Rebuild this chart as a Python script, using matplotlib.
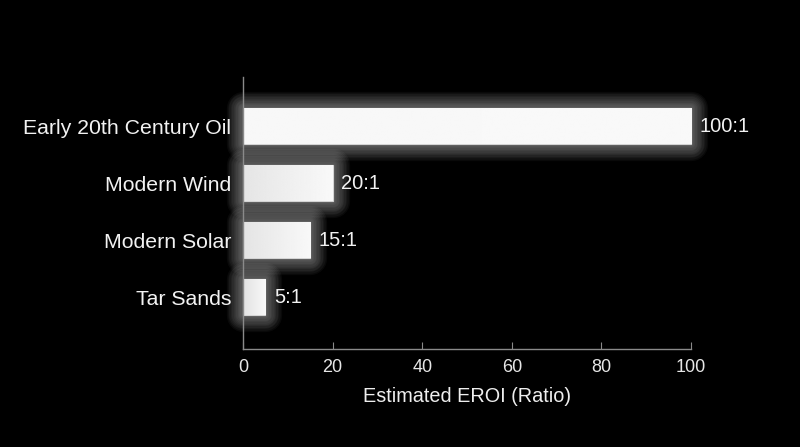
import numpy as np
import matplotlib
matplotlib.use('Agg')
import matplotlib.pyplot as plt
import matplotlib.patheffects as pe

# data
sources = ['Early 20th Century Oil', 'Modern Wind', 'Modern Solar', 'Tar Sands']
eroi = [100, 20, 15, 5]
value_labels = ['100:1', '20:1', '15:1', '5:1']

plt.rcParams['font.family'] = ['Liberation Sans', 'DejaVu Sans']

fig = plt.figure(figsize=(8, 4.47), dpi=100, facecolor='black')
ax = fig.add_axes([0.30375, 0.2192, 0.56, 0.6085], facecolor='black')

ypos = np.arange(len(sources))
bars = ax.barh(ypos, eroi, height=0.63, color='white', edgecolor='#d4d4d4',
               linewidth=0.8, zorder=3)

# soft white glow around each bar
glow = [pe.Stroke(linewidth=w, foreground='white', alpha=0.04,
                  joinstyle='round')
        for w in range(24, 1, -2)]
for b in bars:
    b.set_clip_on(False)
    b.set_path_effects(glow + [pe.Normal()])

# faint grey->white gradient inside each bar (short bars look greyer)
vmax = max(eroi)
for b in bars:
    x0, y0 = b.get_x(), b.get_y()
    w, h = b.get_width(), b.get_height()
    start = 0.97 - 0.09 * (1 - w / vmax)
    grad = np.linspace(start, 0.975, 256).reshape(1, -1)
    im = ax.imshow(grad, cmap='gray', vmin=0, vmax=1, aspect='auto',
                   extent=[x0, x0 + w, y0 + h, y0], zorder=4,
                   interpolation='bilinear')
    im.set_clip_path(b)

for y, v, lab in zip(ypos, eroi, value_labels):
    ax.text(v + 1.9, y, lab, va='center', ha='left', color='#f2f2f2',
            fontsize=14.5, zorder=5)

ax.set_xlim(0, 100)
ax.set_ylim(3.91, -0.86)
ax.set_yticks(ypos)
ax.set_yticklabels(sources, fontsize=15.3, color='#f2f2f2')
ax.tick_params(axis='y', length=0, pad=8.5)
ax.set_xticks([0, 20, 40, 60, 80, 100])
ax.tick_params(axis='x', direction='in', length=5, color='#8a8a8a',
               labelsize=13, labelcolor='#e6e6e6', pad=7)
ax.set_xlabel('Estimated EROI (Ratio)', fontsize=14.3, color='#eeeeee',
              labelpad=8)

for side in ['top', 'right']:
    ax.spines[side].set_visible(False)
for side in ['left', 'bottom']:
    ax.spines[side].set_color('#8a8a8a')
    ax.spines[side].set_linewidth(1.0)
    ax.spines[side].set_zorder(6)

fig.savefig('out.png', dpi=100, facecolor='black')
